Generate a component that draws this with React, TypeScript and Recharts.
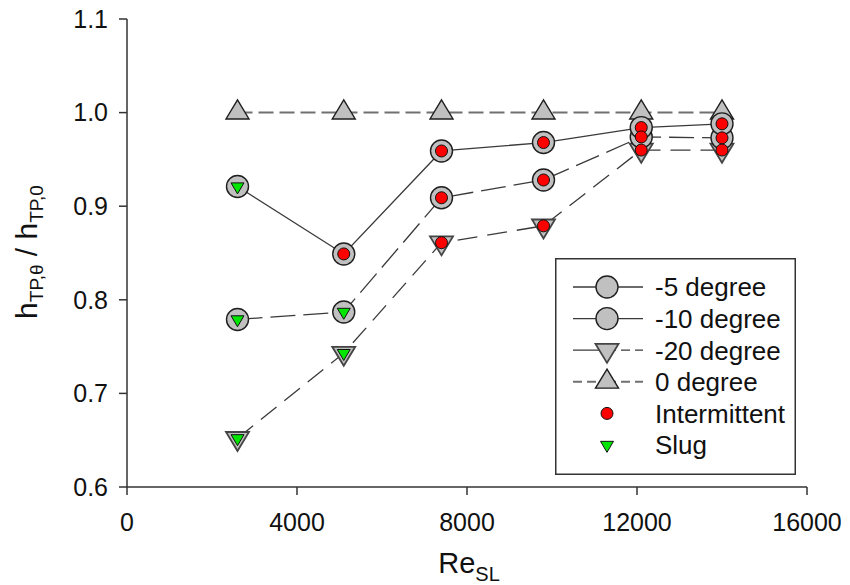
import { ScatterChart, Scatter, XAxis, YAxis, Legend } from 'recharts';

// Re_SL values shared by every series
const reSL = [2600, 5100, 7400, 9800, 12100, 14000];

// h_TP,theta / h_TP,0 per inclination
const deg5 = [0.921, 0.849, 0.959, 0.968, 0.984, 0.988];
const deg10 = [0.779, 0.787, 0.909, 0.928, 0.974, 0.973];
const deg20 = [0.652, 0.743, 0.861, 0.879, 0.96, 0.96];
const deg0 = [1.0, 1.0, 1.0, 1.0, 1.0, 1.0];

// flow regime observed at each point (0 degree has no regime marker)
const regime5 = ['Slug', 'Intermittent', 'Intermittent', 'Intermittent', 'Intermittent', 'Intermittent'];
const regime10 = ['Slug', 'Slug', 'Intermittent', 'Intermittent', 'Intermittent', 'Intermittent'];
const regime20 = ['Slug', 'Slug', 'Intermittent', 'Intermittent', 'Intermittent', 'Intermittent'];

const xTicks = [0, 4000, 8000, 12000, 16000];
const yTicks = [0.6, 0.7, 0.8, 0.9, 1.0, 1.1];

const legendLabels = ['-5 degree', '-10 degree', '-20 degree', '0 degree', 'Intermittent', 'Slug'];

const FONT = '"Liberation Sans", Arial, sans-serif';
const LINE = '#3a3a3a';
const GRAY = '#c0c0c0';
const EDGE = '#1e1e1e';

const toPoints = (ys: number[]) => reSL.map((x, i) => ({ x, y: ys[i] }));

const pts5 = toPoints(deg5);
const pts10 = toPoints(deg10);
const pts20 = toPoints(deg20);
const pts0 = toPoints(deg0);

const byRegime = (name: string) => [
    ...pts5.filter((_, i) => regime5[i] === name),
    ...pts10.filter((_, i) => regime10[i] === name),
    ...pts20.filter((_, i) => regime20[i] === name),
];
const intermittentPts = byRegime('Intermittent');
const slugPts = byRegime('Slug');

const triUp = (cx: number, cy: number, w: number, h: number) =>
    `${cx},${cy - (2 * h) / 3} ${cx - w / 2},${cy + h / 3} ${cx + w / 2},${cy + h / 3}`;
const triDown = (cx: number, cy: number, w: number, h: number) =>
    `${cx},${cy + (2 * h) / 3} ${cx - w / 2},${cy - h / 3} ${cx + w / 2},${cy - h / 3}`;

const NoShape = () => <g />;
const GrayCircle = ({ cx, cy }: any) => (
    <circle cx={cx} cy={cy} r={11} fill={GRAY} stroke={EDGE} strokeWidth={1.4} />
);
const GrayUp = ({ cx, cy }: any) => (
    <polygon points={triUp(cx, cy, 23, 19)} fill={GRAY} stroke={EDGE} strokeWidth={1.4} />
);
const GrayDown = ({ cx, cy }: any) => (
    <polygon points={triDown(cx, cy, 23, 19)} fill={GRAY} stroke="#444" strokeWidth={1.8} />
);
const RedDot = ({ cx, cy }: any) => (
    <circle cx={cx} cy={cy} r={6} fill="#ff0000" stroke="#111" strokeWidth={1} />
);
const GreenDown = ({ cx, cy }: any) => (
    <polygon points={triDown(cx, cy, 13, 11)} fill="#00e600" stroke="#111" strokeWidth={1} />
);

const lineStyles = [
    { stroke: LINE, strokeWidth: 1.3 },
    { stroke: LINE, strokeWidth: 1.3, strokeDasharray: '25 8' },
    { stroke: LINE, strokeWidth: 1.3, strokeDasharray: '20 10' },
    { stroke: '#707070', strokeWidth: 2, strokeDasharray: '15 6' },
];

// legend swatch line pieces, left and right of the marker
const legendDash = [undefined, undefined, '9 5', '9 5'];

function LegendBox() {
    const rowY = (i: number) => 29 + i * 31.6;
    const mx = 52;
    return (
        <svg width={241} height={217} style={{ display: 'block' }}>
            <rect x={0.75} y={0.75} width={239.5} height={215.5} fill="#fff" stroke="#333" strokeWidth={1.5} />
            {lineStyles.map((s, i) => (
                <g key={i}>
                    <line x1={18} x2={mx} y1={rowY(i)} y2={rowY(i)} {...s} strokeDasharray={i === 2 ? undefined : legendDash[i]} />
                    <line x1={mx} x2={88} y1={rowY(i)} y2={rowY(i)} {...s} strokeDasharray={legendDash[i]} />
                </g>
            ))}
            <GrayCircle cx={mx} cy={rowY(0)} />
            <GrayCircle cx={mx} cy={rowY(1)} />
            <GrayDown cx={mx} cy={rowY(2)} />
            <GrayUp cx={mx} cy={rowY(3)} />
            <RedDot cx={mx} cy={rowY(4)} />
            <GreenDown cx={mx} cy={rowY(5)} />
            {legendLabels.map((t, i) => (
                <text key={t} x={100} y={rowY(i)} dy="0.36em" fontSize={26} fontFamily={FONT} fill="#111">
                    {t}
                </text>
            ))}
        </svg>
    );
}

const YTitle = () => (
    <text x={37} y={252} textAnchor="middle" transform="rotate(-90 37 252)" fontFamily={FONT} fontSize={30} fill="#111">
        <tspan>h</tspan>
        <tspan fontSize={19} dy={6}>TP,θ</tspan>
        <tspan dy={-6}> / h</tspan>
        <tspan fontSize={19} dy={6}>TP,0</tspan>
    </text>
);

const XTitle = () => (
    <text x={469} y={573} textAnchor="middle" fontFamily={FONT} fontSize={29} fill="#111">
        <tspan>Re</tspan>
        <tspan fontSize={20} dy={8}>SL</tspan>
    </text>
);

const tickStyle = { fontSize: 25, fill: '#111', fontFamily: FONT };
const axisStroke = { stroke: '#333', strokeWidth: 1.5 };

export default function App() {
    return (
        <div style={{ position: 'absolute', left: 0, top: 0, width: 850, height: 585, background: '#fff' }}>
            <ScatterChart width={850} height={585} margin={{ top: 19, right: 43, bottom: 0, left: 0 }}>
                <XAxis
                    type="number"
                    dataKey="x"
                    domain={[0, 16000]}
                    ticks={xTicks}
                    height={98}
                    tickSize={8}
                    tickMargin={18}
                    tick={tickStyle}
                    axisLine={axisStroke}
                    tickLine={axisStroke}
                    label={<XTitle />}
                />
                <YAxis
                    type="number"
                    dataKey="y"
                    domain={[0.6, 1.1]}
                    ticks={yTicks}
                    width={127}
                    tickSize={8}
                    tickMargin={11}
                    tick={tickStyle}
                    tickFormatter={(v: number) => v.toFixed(1)}
                    axisLine={axisStroke}
                    tickLine={axisStroke}
                    label={<YTitle />}
                />
                <Legend
                    layout="vertical"
                    align="center"
                    verticalAlign="middle"
                    content={() => <LegendBox />}
                    wrapperStyle={{ position: 'absolute', left: 555, top: 258, width: 241, height: 217 }}
                />

                {/* connecting lines first so every marker sits on top */}
                <Scatter data={pts0} line={lineStyles[3]} lineType="joint" shape={NoShape} isAnimationActive={false} legendType="none" />
                <Scatter data={pts20} line={lineStyles[2]} lineType="joint" shape={NoShape} isAnimationActive={false} legendType="none" />
                <Scatter data={pts10} line={lineStyles[1]} lineType="joint" shape={NoShape} isAnimationActive={false} legendType="none" />
                <Scatter data={pts5} line={lineStyles[0]} lineType="joint" shape={NoShape} isAnimationActive={false} legendType="none" />

                <Scatter data={pts0} shape={GrayUp} isAnimationActive={false} legendType="none" />
                <Scatter data={pts20} shape={GrayDown} isAnimationActive={false} legendType="none" />
                <Scatter data={pts10} shape={GrayCircle} isAnimationActive={false} legendType="none" />
                <Scatter data={pts5} shape={GrayCircle} isAnimationActive={false} legendType="none" />

                <Scatter data={intermittentPts} shape={RedDot} isAnimationActive={false} legendType="none" />
                <Scatter data={slugPts} shape={GreenDown} isAnimationActive={false} legendType="none" />
            </ScatterChart>
        </div>
    );
}
